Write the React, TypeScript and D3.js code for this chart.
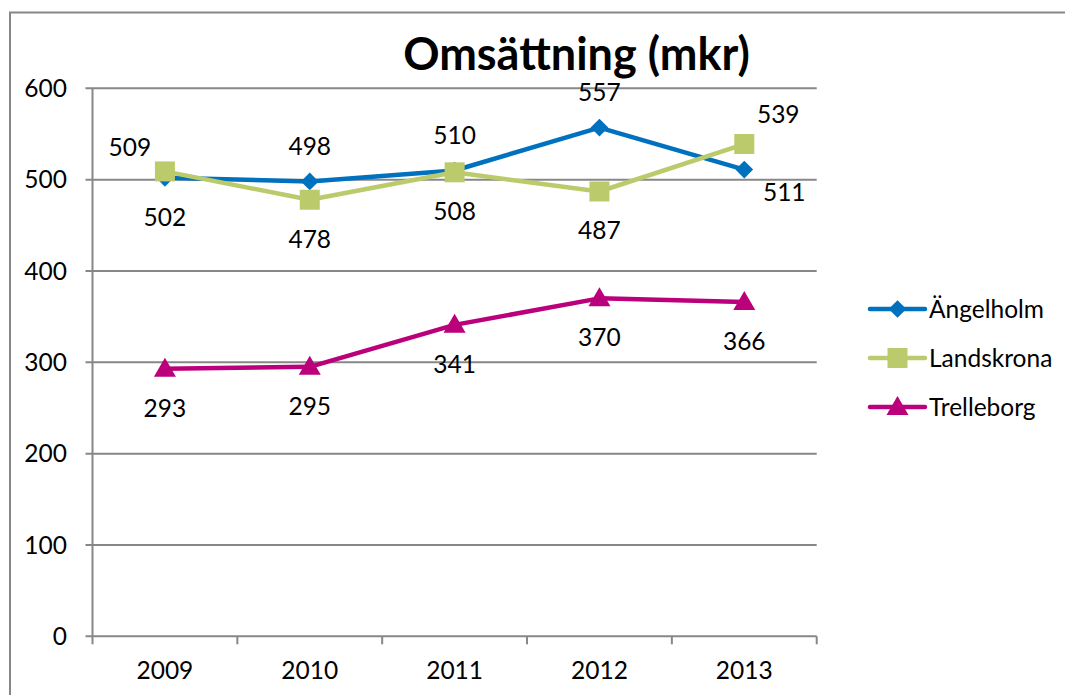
import React from "react";
import * as d3 from "d3";

const years = ["2009", "2010", "2011", "2012", "2013"];
const angelholm = [502, 498, 510, 557, 511];
const landskrona = [509, 478, 508, 487, 539];
const trelleborg = [293, 295, 341, 370, 366];
const yTicks = [0, 100, 200, 300, 400, 500, 600];

const angelholmLabelPos = ["below", "above", "above", "above", "rightBelow"];
const landskronaLabelPos = ["leftAbove", "below", "below", "below", "rightAbove"];
const trelleborgLabelPos = ["below", "below", "below", "below", "below"];

const series = [
  { name: "Ängelholm", values: angelholm, color: "#0071BF", marker: "diamond", labelPos: angelholmLabelPos },
  { name: "Landskrona", values: landskrona, color: "#BBCB6B", marker: "square", labelPos: landskronaLabelPos },
  { name: "Trelleborg", values: trelleborg, color: "#BB007B", marker: "triangle", labelPos: trelleborgLabelPos },
];

const W = 1065;
const H = 695;
const M = { left: 92.5, right: 816.7, top: 88.3, bottom: 636.3 };
const FONT = "Lato, 'Open Sans', sans-serif";

const labelOffset: Record<string, [number, number]> = {
  below: [0, 39],
  above: [0, -35],
  leftAbove: [-35, -24],
  rightAbove: [34, -30],
  rightBelow: [40, 23],
};

function markerPath(type: string) {
  if (type === "diamond") return d3.symbol(d3.symbolDiamond2, 200)();
  if (type === "square") return "M-10,-10H10V10H-10Z";
  return "M0,-11L11,8L-11,8Z";
}

export default function App() {
  const x = d3.scaleBand().domain(years).range([M.left, M.right]);
  const y = d3.scaleLinear().domain([0, 600]).range([M.bottom, M.top]);
  const cx = (yr: string) => (x(yr) as number) + x.bandwidth() / 2;
  const line = d3
    .line<number>()
    .x((_, i) => cx(years[i]))
    .y((v) => y(v));
  const grid = "#878787";
  const legendY = d3.scalePoint().domain(series.map((s) => s.name)).range([309, 407]);

  return (
    <div style={{ position: "absolute", left: 0, top: 0 }}>
      <svg width={W} height={H} style={{ display: "block", background: "#fff" }}>
        <rect x={10} y={12.5} width={W + 20} height={H + 20} fill="#fff" stroke={grid} strokeWidth={2} />
        <text x={576.5} y={70} textAnchor="middle" fontFamily={FONT} fontWeight={700} fontSize={45} fill="#000">
          Omsättning (mkr)
        </text>
        {yTicks.map((t) => (
          <g key={t}>
            <line x1={M.left - 7} x2={M.right} y1={y(t)} y2={y(t)} stroke={grid} strokeWidth={2} />
            <text x={67} y={y(t)} dy="0.36em" textAnchor="end" fontFamily={FONT} fontSize={24.5} fill="#000">
              {t}
            </text>
          </g>
        ))}
        <line x1={M.left} x2={M.left} y1={M.top} y2={M.bottom} stroke={grid} strokeWidth={2} />
        {years.map((yr) => (
          <g key={yr}>
            <line x1={x(yr)} x2={x(yr)} y1={M.bottom} y2={M.bottom + 8} stroke={grid} strokeWidth={2} />
            <text x={cx(yr)} y={670} dy="0.36em" textAnchor="middle" fontFamily={FONT} fontSize={24.5} fill="#000">
              {yr}
            </text>
          </g>
        ))}
        <line x1={M.right} x2={M.right} y1={M.bottom} y2={M.bottom + 8} stroke={grid} strokeWidth={2} />
        {series.map((s) => (
          <g key={s.name}>
            <path d={line(s.values) || ""} fill="none" stroke={s.color} strokeWidth={4.5} strokeLinejoin="round" strokeLinecap="round" />
            {s.values.map((v, i) => (
              <path key={i} d={markerPath(s.marker)} transform={`translate(${cx(years[i])},${y(v)})`} fill={s.color} />
            ))}
          </g>
        ))}
        {series.map((s) =>
          s.values.map((v, i) => {
            const [dx, dy] = labelOffset[s.labelPos[i]];
            return (
              <text
                key={s.name + i}
                x={cx(years[i]) + dx}
                y={y(v) + dy}
                dy="0.36em"
                textAnchor="middle"
                fontFamily={FONT}
                fontSize={24.5}
                fill="#000"
              >
                {v}
              </text>
            );
          })
        )}
        {series.map((s) => {
          const ly = legendY(s.name) as number;
          return (
            <g key={s.name}>
              <line x1={870} x2={925} y1={ly} y2={ly} stroke={s.color} strokeWidth={4.5} strokeLinecap="round" />
              <path d={markerPath(s.marker)} transform={`translate(897.5,${ly})`} fill={s.color} />
              <text x={929} y={ly} dy="0.36em" fontFamily={FONT} fontSize={24.5} fill="#000">
                {s.name}
              </text>
            </g>
          );
        })}
      </svg>
    </div>
  );
}
